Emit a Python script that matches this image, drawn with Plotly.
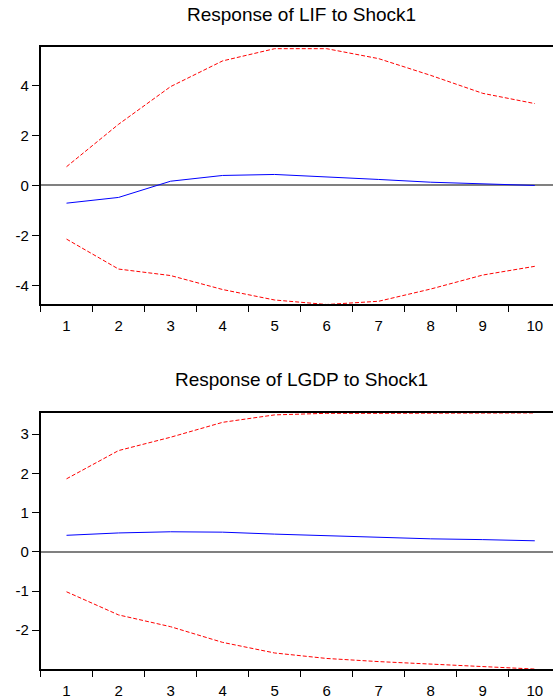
import plotly.graph_objects as go

periods = [1, 2, 3, 4, 5, 6, 7, 8, 9, 10]
tick_labels = ["1", "2", "3", "4", "5", "6", "7", "8", "9", "10"]

lif_resp = [-0.71, -0.48, 0.17, 0.40, 0.44, 0.35, 0.24, 0.13, 0.05, 0.00]
lif_upper = [0.75, 2.45, 3.96, 4.99, 5.48, 5.48, 5.08, 4.41, 3.69, 3.28]
lif_lower = [-2.15, -3.35, -3.61, -4.17, -4.59, -4.77, -4.64, -4.15, -3.59, -3.24]

lgdp_resp = [0.42, 0.48, 0.51, 0.50, 0.45, 0.41, 0.37, 0.33, 0.31, 0.28]
lgdp_upper = [1.86, 2.58, 2.92, 3.30, 3.49, 3.53, 3.53, 3.53, 3.53, 3.54]
lgdp_lower = [-1.02, -1.61, -1.91, -2.31, -2.58, -2.72, -2.80, -2.86, -2.92, -2.99]

titles = ["Response of LIF to Shock1", "Response of LGDP to Shock1"]

FONT = "Liberation Sans, Arial, sans-serif"
fig = go.Figure()

panels = [
    (lif_resp, lif_upper, lif_lower, "x", "y"),
    (lgdp_resp, lgdp_upper, lgdp_lower, "x2", "y2"),
]
for resp, up, lo, xa, ya in panels:
    fig.add_trace(go.Scatter(x=periods, y=up, mode="lines", xaxis=xa, yaxis=ya,
                             line=dict(color="#ff0000", width=1, dash="4px,2px"), showlegend=False))
    fig.add_trace(go.Scatter(x=periods, y=lo, mode="lines", xaxis=xa, yaxis=ya,
                             line=dict(color="#ff0000", width=1, dash="4px,2px"), showlegend=False))
    fig.add_trace(go.Scatter(x=periods, y=resp, mode="lines", xaxis=xa, yaxis=ya,
                             line=dict(color="#0000ff", width=1), showlegend=False))

H = 699.0
W = 553.0
xdom = [40.5 / W, 1.0]

def xaxis_cfg(anchor):
    return dict(
        domain=xdom, anchor=anchor, range=[0.5, 10.35],
        tickvals=periods, ticktext=tick_labels,
        ticks="outside", ticklen=7, tickcolor="rgba(0,0,0,0)",
        tickfont=dict(family=FONT, size=15, color="black"),
        showline=True, linecolor="black", linewidth=1.5, mirror=True,
        showgrid=False, zeroline=False,
        minor=dict(tickvals=[p - 0.5 for p in periods], ticks="outside",
                   ticklen=6, tickcolor="black", tickwidth=1, showgrid=False),
    )

def yaxis_cfg(anchor, dom, rng, tv):
    return dict(
        domain=dom, anchor=anchor, range=rng,
        tickvals=tv, ticktext=[str(v) for v in tv],
        ticks="outside", ticklen=7, tickcolor="black", tickwidth=1,
        tickfont=dict(family=FONT, size=15, color="black"),
        showline=True, linecolor="black", linewidth=1.5, mirror=False,
        showgrid=False, zeroline=True, zerolinecolor="#808080", zerolinewidth=2,
    )

fig.update_layout(
    width=553, height=699,
    margin=dict(l=0, r=0, t=0, b=0),
    paper_bgcolor="white", plot_bgcolor="white",
    xaxis=xaxis_cfg("y"),
    yaxis=yaxis_cfg("x", [(H - 306) / H, (H - 47.7) / H], [-4.76, 5.53], [-4, -2, 0, 2, 4]),
    xaxis2=xaxis_cfg("y2"),
    yaxis2=yaxis_cfg("x2", [(H - 673.3) / H, (H - 415.3) / H], [-3.0, 3.54], [-2, -1, 0, 1, 2, 3]),
    annotations=[
        dict(text=titles[0], x=301 / W, y=1 - 15 / H, xref="paper", yref="paper",
             showarrow=False, xanchor="center", yanchor="middle",
             font=dict(family=FONT, size=19, color="black")),
        dict(text=titles[1], x=301 / W, y=1 - 382 / H, xref="paper", yref="paper",
             showarrow=False, xanchor="center", yanchor="middle",
             font=dict(family=FONT, size=19, color="black")),
    ],
)

fig.write_html("out.html", config={"displayModeBar": False},
               post_script="document.body.style.margin='0';document.body.style.overflow='hidden';")
